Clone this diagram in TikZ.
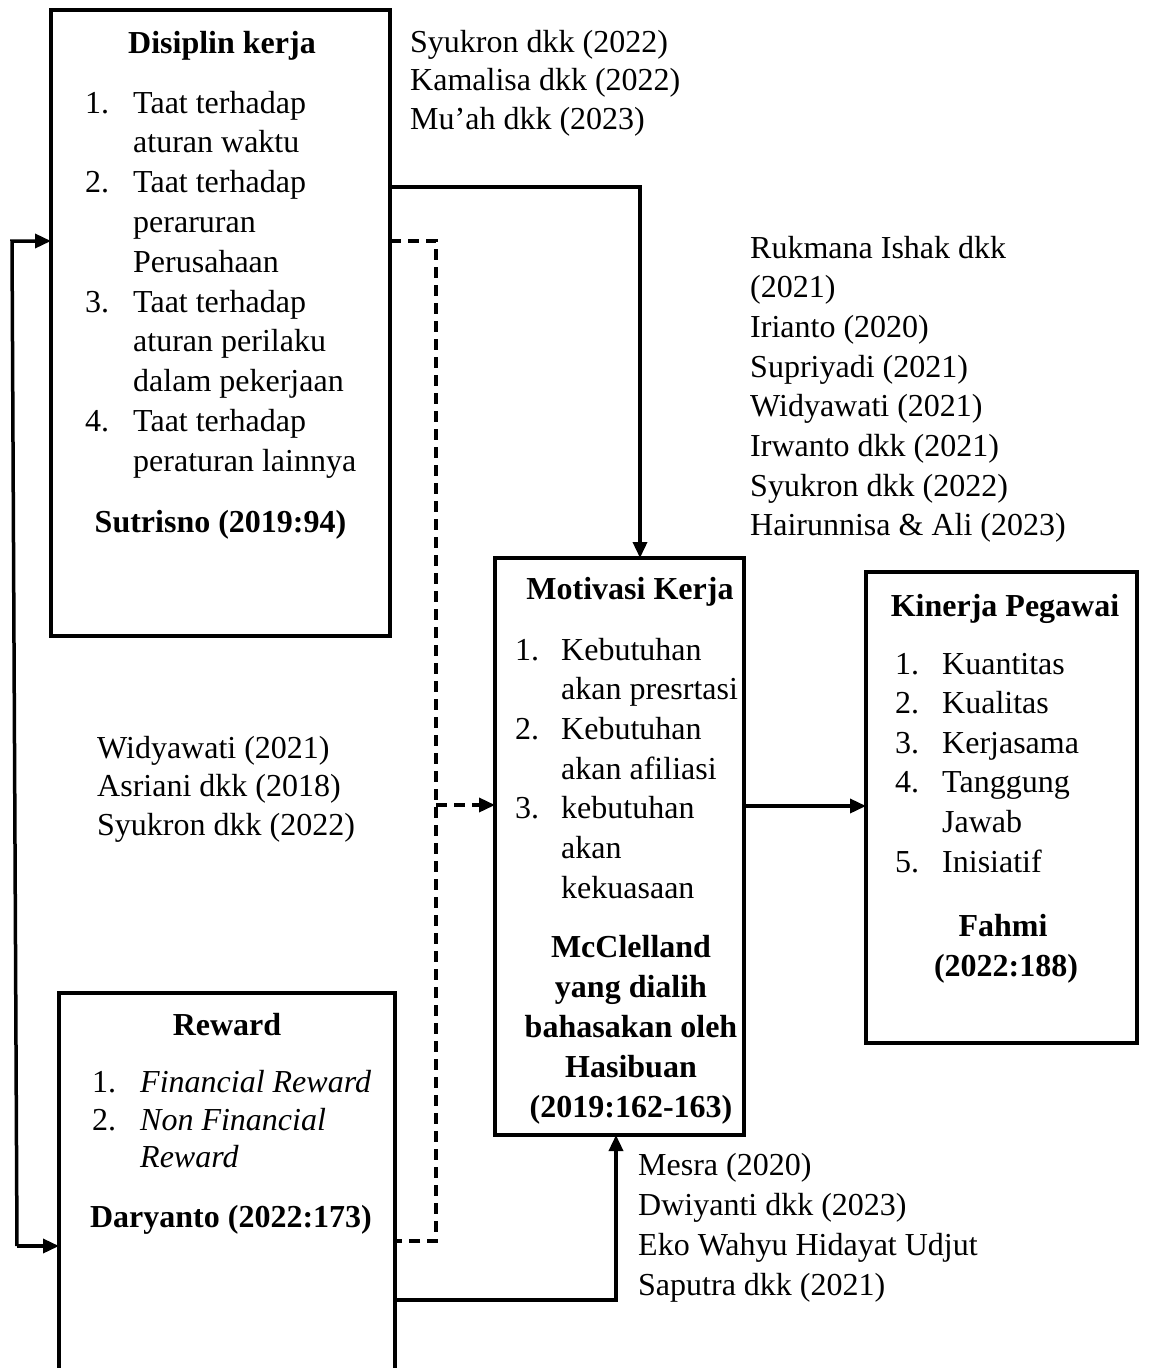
\documentclass[tikz,border=0pt]{standalone}
\usepackage{fontspec}
\setmainfont{Liberation Serif}
\usetikzlibrary{arrows.meta}
\begin{document}
\begin{tikzpicture}[x=1pt,y=-1pt,
  box/.style={draw,line width=3.5pt},
  conn/.style={line width=3.5pt},
  dconn/.style={line width=3.5pt,dash pattern=on 11pt off 7pt},
  tip/.style={-{Triangle[length=16pt,width=14pt]}},
  txt/.style={inner sep=0pt,anchor=base west,font=\fontsize{32}{38}\selectfont},
  btxt/.style={inner sep=0pt,anchor=base,font=\fontsize{32}{38}\selectfont\bfseries},
]
\useasboundingbox (0,0) rectangle (1152,1368);
\clip (0,0) rectangle (1152,1368);
% boxes
\draw[box] (51,10) rectangle (390,636);
\draw[box] (495,558) rectangle (744,1135);
\draw[box] (866,572) rectangle (1137,1043);
\draw[box] (59,993) rectangle (395,1380);
\coordinate (dR1) at (390,187);
\coordinate (dR2) at (390,241);
\coordinate (dL) at (51,241);
\coordinate (rL) at (59,1246);
\coordinate (rR1) at (395,1241);
\coordinate (rR2) at (395,1300);
\coordinate (mT) at (640,558);
\coordinate (mL) at (495,805);
\coordinate (mR) at (744,806);
\coordinate (mB) at (616,1135);
\coordinate (kL) at (866,806);
% connectors
\draw[conn,tip] (dR1) -| (mT);
\draw[dconn] (dR2) -- (436,241) -- (436,1241) -- (rR1);
\draw[dconn,tip] (436,805) -- (mL);
\draw[conn,tip] (rR2) -| (mB);
\draw[conn,tip] (mR) -- (kL);
\draw[conn,tip] (17,1246) -- (12,241) -- (dL);
\draw[conn,tip] (17,1246) -- (rL);
% Disiplin
\node[btxt] (t1) at (222,53) {Disiplin kerja};
\foreach \n/\t [count=\i] in {1./Taat terhadap,/aturan waktu,2./Taat terhadap,/peraruran,/Perusahaan,3./Taat terhadap,/aturan perilaku,/dalam pekerjaan,4./Taat terhadap,/peraturan lainnya}{
  \node[txt] (dn\i) at (85,{113+(\i-1)*39.8}) {\n};
  \node[txt] (dt\i) at (133,{113+(\i-1)*39.8}) {\t};
}
\node[btxt] (s1) at (220.5,532) {Sutrisno (2019:94)};
% top cites
\foreach \t [count=\i] in {Syukron dkk (2022),Kamalisa dkk (2022),Mu’ah dkk (2023)}{
  \node[txt] (ca\i) at (410,{52+(\i-1)*38.5}) {\t};
}
% right cites
\foreach \t [count=\i] in {Rukmana Ishak dkk,(2021),Irianto (2020),Supriyadi (2021),Widyawati (2021),Irwanto dkk (2021),Syukron dkk (2022),Hairunnisa \& Ali (2023)}{
  \node[txt] (cb\i) at (750,{258+(\i-1)*39.7}) {\t};
}
% left cites
\foreach \t [count=\i] in {Widyawati (2021),Asriani dkk (2018),Syukron dkk (2022)}{
  \node[txt] (cc\i) at (97,{758+(\i-1)*38.5}) {\t};
}
% Motivasi
\node[btxt] (t2) at (630,599) {Motivasi Kerja};
\foreach \n/\t [count=\i] in {1./Kebutuhan,/akan presrtasi,2./Kebutuhan,/akan afiliasi,3./kebutuhan,/akan,/kekuasaan}{
  \node[txt] (mn\i) at (515,{660+(\i-1)*39.7}) {\n};
  \node[txt] (mt\i) at (561,{660+(\i-1)*39.7}) {\t};
}
\foreach \t [count=\i] in {McClelland,yang dialih,bahasakan oleh,Hasibuan,(2019:162-163)}{
  \node[btxt] (ms\i) at (631,{957+(\i-1)*40.2}) {\t};
}
% Kinerja
\node[btxt] (t3) at (1005,616) {Kinerja Pegawai};
\foreach \n/\t [count=\i] in {1./Kuantitas,2./Kualitas,3./Kerjasama,4./Tanggung,/Jawab,5./Inisiatif}{
  \node[txt] (kn\i) at (895,{674+(\i-1)*39.6}) {\n};
  \node[txt] (kt\i) at (942,{674+(\i-1)*39.6}) {\t};
}
\node[btxt] (ks1) at (1003,936) {Fahmi};
\node[btxt] (ks2) at (1006,976) {(2022:188)};
% Reward
\node[btxt] (t4) at (227,1035) {Reward};
\node[txt] (rn1) at (92,1092) {1.};
\node[txt] (rt1) at (140,1092) {\itshape Financial Reward};
\node[txt] (rn2) at (92,1130) {2.};
\node[txt] (rt2) at (140,1130) {\itshape Non Financial};
\node[txt] (rt3) at (140,1167) {\itshape Reward};
\node[btxt] (rs1) at (231,1227) {Daryanto (2022:173)};
% bottom cites
\foreach \t [count=\i] in {Mesra (2020),Dwiyanti dkk (2023),Eko Wahyu Hidayat Udjut,Saputra dkk (2021)}{
  \node[txt] (cd\i) at (638,{1175+(\i-1)*40}) {\t};
}
\end{tikzpicture}
\end{document}
